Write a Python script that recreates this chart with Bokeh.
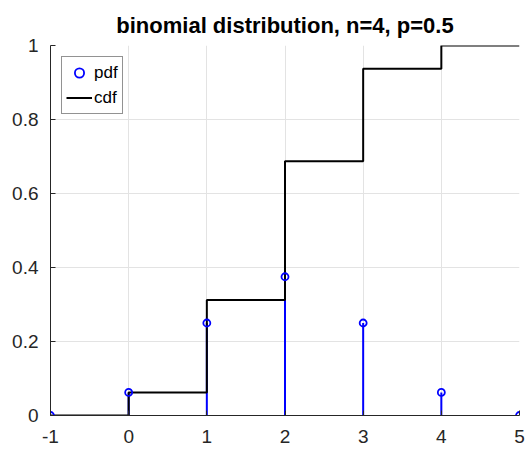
from bokeh.plotting import figure
from bokeh.models import Range1d, Legend, LegendItem, FixedTicker, ColumnDataSource
from bokeh.embed import file_html
from bokeh.resources import INLINE

k_values = [-1, 0, 1, 2, 3, 4, 5]
pdf_values = [0, 0.0625, 0.25, 0.375, 0.25, 0.0625, 0]
cdf_values = [0, 0.0625, 0.3125, 0.6875, 0.9375, 1.0, 1.0]
x_ticks = [-1, 0, 1, 2, 3, 4, 5]
y_ticks = [0, 0.2, 0.4, 0.6, 0.8, 1.0]
y_tick_labels = ["0", "0.2", "0.4", "0.6", "0.8", "1"]
title_text = "binomial distribution, n=4, p=0.5"

p = figure(width=527, height=452, output_backend="svg", toolbar_location=None,
           x_range=Range1d(-1, 5), y_range=Range1d(0, 1),
           min_border_left=50, min_border_right=8, min_border_top=45, min_border_bottom=37)

p.title.text = title_text
p.title.align = "center"
p.title.text_font = "Liberation Sans"
p.title.text_font_size = "22px"
p.title.text_font_style = "bold"
p.title.text_color = "#000000"
p.title.standoff = 16

p.outline_line_color = None
p.background_fill_color = "white"

for ax in (p.xaxis[0], p.yaxis[0]):
    ax.axis_line_color = "#262626"
    ax.axis_line_width = 1
    ax.major_tick_in = 5
    ax.major_tick_out = 0
    ax.minor_tick_in = 0
    ax.minor_tick_out = 0
    ax.major_tick_line_color = "#262626"
    ax.major_label_text_font = "Liberation Sans"
    ax.major_label_text_font_size = "19px"
    ax.major_label_text_color = "#262626"

p.xaxis[0].ticker = FixedTicker(ticks=x_ticks)
p.yaxis[0].ticker = FixedTicker(ticks=y_ticks)
p.yaxis[0].major_label_overrides = {t: l for t, l in zip(y_ticks, y_tick_labels)}
p.xaxis[0].major_label_overrides = {t: str(t) for t in x_ticks}
p.xaxis[0].major_label_standoff = 14
p.yaxis[0].major_label_standoff = 12

p.xgrid.grid_line_color = "#e3e3e3"
p.ygrid.grid_line_color = "#e3e3e3"
p.xgrid.ticker = FixedTicker(ticks=x_ticks)
p.ygrid.ticker = FixedTicker(ticks=y_ticks)

src = ColumnDataSource(dict(k=k_values, pdf=pdf_values, zero=[0] * len(k_values), cdf=cdf_values))

p.segment(x0="k", y0="zero", x1="k", y1="pdf", source=src, line_color="#0000ff", line_width=2)
cdf_r = p.step(x="k", y="cdf", source=src, mode="after", line_color="#000000", line_width=2)
pdf_r = p.scatter(x="k", y="pdf", source=src, marker="circle", size=7, fill_color=None,
                  line_color="#0000ff", line_width=1.8)

legend = Legend(items=[LegendItem(label="pdf", renderers=[pdf_r]),
                       LegendItem(label="cdf", renderers=[cdf_r])],
                location="top_left")
legend.label_text_font = "Liberation Sans"
legend.label_text_font_size = "17px"
legend.label_text_color = "#000000"
legend.border_line_color = "#262626"
legend.border_line_width = 1
legend.margin = 11
legend.padding = 4
legend.spacing = 2
legend.glyph_width = 26
legend.glyph_height = 23
legend.label_height = 23
legend.label_standoff = 2
legend.background_fill_color = "white"
legend.background_fill_alpha = 1
p.add_layout(legend)

open("out.html", "w").write(file_html(p, INLINE))
